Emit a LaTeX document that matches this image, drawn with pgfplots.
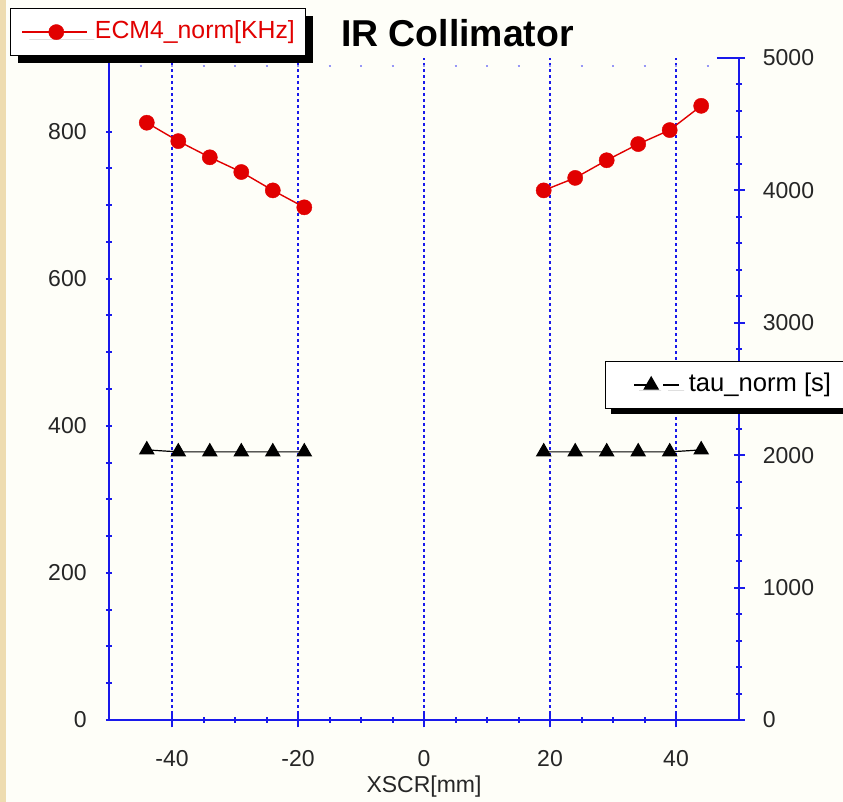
\documentclass[border=0pt]{standalone}
\usepackage{fontspec}
\setmainfont{Liberation Sans}
\usepackage{pgfplots}
\usepackage{pgfplotstable}
\pgfplotsset{compat=1.18}
\usetikzlibrary{shadows}

\definecolor{axisblue}{RGB}{25,25,235}
\definecolor{ecmred}{RGB}{225,0,0}
\definecolor{paper}{RGB}{254,254,248}
\definecolor{wood}{RGB}{238,220,176}

% ECM4 rate, normalised [kHz]
\pgfplotstableread{
x y
-44 812
-39 787
-34 765
-29 745
-24 720
-19 697
}\ecmleft
\pgfplotstableread{
x y
19 720
24 737
29 761
34 783
39 802
44 835
}\ecmright
% lifetime, normalised [s]
\pgfplotstableread{
x y
-44 2040
-39 2025
-34 2025
-29 2025
-24 2025
-19 2025
}\tauleft
\pgfplotstableread{
x y
19 2025
24 2025
29 2025
34 2025
39 2025
44 2040
}\tauright

\pgfplotsset{
  base/.style={
    scale only axis, width=315pt, height=331pt,
    at={(0,0)}, anchor=south west,
    xmin=-50, xmax=50,
    tick style={axisblue, line width=1pt},
    tick align=inside,
    ticklabel style={font=\fontsize{11.5}{13}\selectfont, text=black!85},
  },
  plainlines/.style={
    every outer x axis line/.append style={-},
    every outer y axis line/.append style={-},
    axis line style={axisblue, line width=1pt, -},
  },
  boxlegend/.style={
    draw=black, line width=0.6pt, fill=white,
    inner ysep=5.75pt,
    nodes={inner sep=0pt, text height=9pt, text depth=3pt,
           font=\fontsize{12.4}{14}\selectfont},
  },
}

\begin{document}
\begin{tikzpicture}
\useasboundingbox (-54.5pt,-41pt) rectangle (367pt,360pt);
\fill[paper] (-54.5pt,-41pt) rectangle (367pt,360pt);
\fill[wood] (-54.5pt,-41pt) rectangle (-51.5pt,360pt);

% x axis with dotted grid
\begin{axis}[base, ymin=0, ymax=1,
  axis x line=bottom, axis y line=none,
  xtick={-40,-20,0,20,40}, xticklabels={-40,-20,0,20,40},
  minor x tick num=3,
  major tick length=7.5pt, minor tick length=3pt,
  xmajorgrids,
  major grid style={axisblue, line width=0.8pt, dash pattern=on 1.5pt off 1.5pt},
  xticklabel style={anchor=north, inner sep=0pt, yshift=-11.5pt},
  xlabel={XSCR[mm]},
  xlabel style={at={(axis description cs:0.5,0)}, anchor=center, yshift=-33.5pt,
                font=\fontsize{11.5}{13}\selectfont, text=black!85},
  plainlines,
]
\draw[axisblue!45, line width=0.8pt, dash pattern=on 1pt off 14.75pt, dash phase=0.5pt]
  (axis cs:-50,0.988) -- (axis cs:50,0.988);
\end{axis}

% left axis: ECM4 rate
\begin{axis}[base, ymin=0, ymax=900,
  axis y line=left, axis x line=none,
  ytick={0,200,...,800}, yticklabels={0,200,400,600,800},
  minor y tick num=3,
  major tick length=3pt, minor tick length=3pt,
  yticklabel style={anchor=east, inner sep=0pt, xshift=-9.5pt},
  legend style={boxlegend, at={(-0.15714,1.07553)}, anchor=north west,
    inner xsep=5.5pt, column sep=3.5pt, text=ecmred,
    drop shadow={shadow xshift=3.5pt, shadow yshift=-3.5pt, opacity=1, fill=black}},
  legend image code/.code={
    \tikzset{every shadow/.style={draw=none}}
    \draw[mark repeat=2, mark phase=2, #1] plot coordinates {(0pt,0pt) (17pt,0pt) (32.5pt,0pt)};},
  plainlines,
]
\addplot[ecmred, line width=0.7pt, mark=*, mark size=3.8pt,
  mark options={fill=ecmred, draw=ecmred, line width=0.2pt}] table {\ecmleft};
\addlegendentry{ECM4\_norm[KHz]}
\addplot[ecmred, line width=0.7pt, mark=*, mark size=3.8pt,
  mark options={fill=ecmred, draw=ecmred, line width=0.2pt}, forget plot] table {\ecmright};
\end{axis}

% right axis: lifetime
\begin{axis}[base, ymin=0, ymax=5000,
  axis y line=right, axis x line=none,
  ytick={0,1000,...,5000}, yticklabels={0,1000,2000,3000,4000,5000},
  minor y tick num=4,
  major tick length=5.5pt, minor tick length=3pt,
  yticklabel style={anchor=west, inner sep=0pt, xshift=9pt},
  legend style={boxlegend, at={(0.78730,0.54230)}, anchor=north west,
    inner xsep=14pt, column sep=4.5pt, text=black,
    nodes={font=\fontsize{12.8}{14}\selectfont},
    drop shadow={shadow xshift=2.5pt, shadow yshift=-2.5pt, opacity=1, fill=black}},
  legend image code/.code={
    \tikzset{every shadow/.style={draw=none}}
    \draw[#1, mark=none] (0pt,0pt) -- (11pt,0pt);
    \draw[#1, mark=none] (14.5pt,0pt) -- (22.5pt,0pt);
    \draw[#1] plot coordinates {(8.5pt,0pt)};},
  plainlines,
]
\draw[axisblue, line width=1pt] (axis cs:46.5,5000) -- (axis cs:50,5000);
\addplot[black, line width=0.6pt, mark=triangle*, mark size=4pt,
  mark options={fill=black}] table {\tauleft};
\addlegendentry{tau\_norm [s]}
\addplot[black, line width=0.6pt, mark=triangle*, mark size=4pt,
  mark options={fill=black}, forget plot] table {\tauright};
\end{axis}

\node[anchor=base west, font=\bfseries\fontsize{18.7}{22}\selectfont]
  at (112.5pt,336.5pt) {IR Collimator};
\end{tikzpicture}
\end{document}
